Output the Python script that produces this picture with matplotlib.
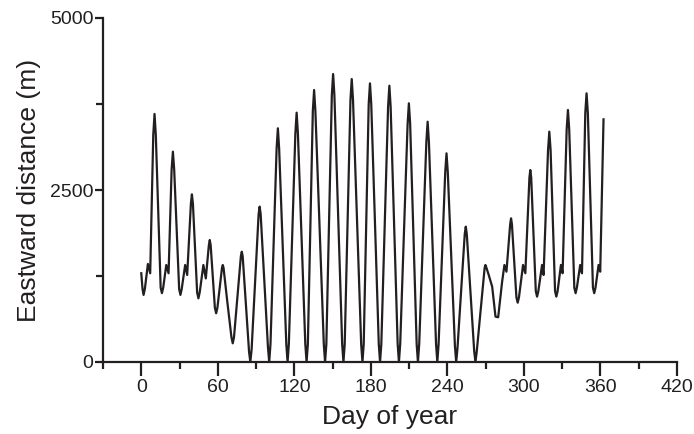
import matplotlib
matplotlib.use("Agg")
import matplotlib.pyplot as plt
from matplotlib.ticker import MultipleLocator

plt.rcParams['font.family'] = ['Liberation Sans', 'DejaVu Sans']

# Day of year and eastward distance (m)
days = [0.0, 1.0, 1.8, 2.8, 5.2, 7.0, 9.4, 10.4, 11.4, 15.2, 16.2, 17.2, 19.6, 21.4, 23.8, 24.8, 25.8,
        29.7, 30.7, 31.7, 34.4, 36.0, 38.9, 39.7, 40.5, 43.8, 44.8, 45.8, 48.7, 50.6,
        53.0, 53.7, 54.4, 57.7, 58.7, 59.7, 63.3, 63.9, 64.5, 67.3, 70.7, 71.7, 72.7,
        78.1, 78.8, 79.5, 84.5, 85.5, 86.5, 92.0, 92.8, 93.6, 99.3, 100.3, 101.3, 106.1, 107.1, 108.1,
        113.7, 114.7, 115.7, 120.8, 121.8, 122.8, 128.6, 129.6, 130.6,
        134.5, 135.5, 136.5, 143.1, 144.1, 145.1, 149.4, 150.4, 151.4,
        157.5, 158.5, 159.5, 164.0, 165.0, 166.0, 172.4, 173.4, 174.4,
        178.3, 179.3, 180.3, 186.2, 187.2, 188.2, 193.5, 194.5, 195.5,
        201.0, 202.0, 203.0, 208.8, 209.8, 210.8, 215.9, 216.9, 217.9,
        223.5, 224.5, 225.5, 231.1, 232.1, 233.1, 238.3, 239.3, 240.3,
        245.9, 246.9, 247.9, 253.6, 254.4, 255.2, 261.0, 262.0, 263.0,
        269.2, 269.8, 270.6, 272.4, 275.1, 277.7, 279.8, 282.9, 284.7, 286.3, 289.2, 289.9, 290.6,
        294.1, 295.1, 296.1, 299.3, 301.1, 304.3, 305.0, 305.7, 309.3, 310.3, 311.3, 314.2, 315.4,
        318.9, 319.9, 320.9, 324.4, 325.4, 326.4, 329.0, 330.3, 333.5, 334.5, 335.5,
        339.5, 340.5, 341.5, 344.1, 345.5, 348.1, 349.1, 350.1, 354.1, 355.1, 356.1,
        358.5, 359.8, 362.4]
distance = [1290, 1060, 975, 1060, 1425, 1290, 3300, 3605, 3300, 1080, 1000, 1080, 1410, 1290, 2800, 3057, 2800,
            1060, 975, 1060, 1410, 1265, 2300, 2437, 2300, 1010, 925, 1010, 1410, 1215,
            1700, 1773, 1700, 790, 708, 790, 1370, 1410, 1370, 900, 360, 272, 360,
            1540, 1603, 1540, 150, 0, 180, 2150, 2258, 2150, 220, 0, 260, 3100, 3397, 3100,
            260, 0, 260, 3320, 3624, 3320, 260, 0, 260,
            3650, 3953, 3650, 260, 0, 260, 3880, 4186, 3880,
            260, 0, 260, 3810, 4113, 3810, 260, 0, 260,
            3750, 4050, 3750, 260, 0, 260, 3710, 4016, 3710,
            260, 0, 260, 3460, 3760, 3460, 260, 0, 260,
            3200, 3493, 3200, 260, 0, 260, 2760, 3033, 2760,
            230, 0, 200, 1860, 1967, 1860, 160, 0, 150,
            1370, 1410, 1370, 1265, 1095, 660, 650, 1167, 1410, 1313, 2000, 2088, 2000,
            940, 862, 940, 1410, 1290, 2680, 2790, 2680, 1030, 950, 1030, 1410, 1265,
            3080, 3348, 3080, 1030, 950, 1030, 1410, 1290, 3380, 3663, 3380,
            1080, 1000, 1080, 1410, 1290, 3620, 3905, 3620, 1080, 1000, 1080,
            1410, 1313, 3527]

x_ticks = [0, 60, 120, 180, 240, 300, 360, 420]
y_ticks = [0, 2500, 5000]

color = '#231f20'
fig = plt.figure(figsize=(6.94, 4.34), dpi=100)
ax = fig.add_axes([103/694, 1-362/434, (677-103)/694, (362-18)/434])
ax.plot(days, distance, color=color, lw=1.6, solid_joinstyle='round')

ax.set_xlim(-30, 420)
ax.set_ylim(0, 5000)
ax.set_xticks(x_ticks)
ax.set_yticks(y_ticks)
ax.xaxis.set_minor_locator(MultipleLocator(30))
ax.yaxis.set_minor_locator(MultipleLocator(1250))

for s in ['top', 'right']:
    ax.spines[s].set_visible(False)
for s in ['left', 'bottom']:
    ax.spines[s].set_linewidth(1.6)
    ax.spines[s].set_color(color)

ax.tick_params(axis='x', which='major', direction='out', length=10, width=1.6, color=color,
               labelsize=14, pad=2, labelcolor=color)
ax.tick_params(axis='x', which='minor', direction='out', length=5, width=1.6, color=color)
ax.tick_params(axis='y', which='major', direction='out', length=6, width=1.6, color=color,
               labelsize=14, pad=1, labelcolor=color)
ax.tick_params(axis='y', which='minor', direction='out', length=5, width=1.6, color=color)

ax.set_xlabel('Day of year', fontsize=19, color=color, labelpad=7)
ax.set_ylabel('Eastward distance (m)', fontsize=19, color=color, labelpad=6)

fig.savefig('out.png', dpi=100)
